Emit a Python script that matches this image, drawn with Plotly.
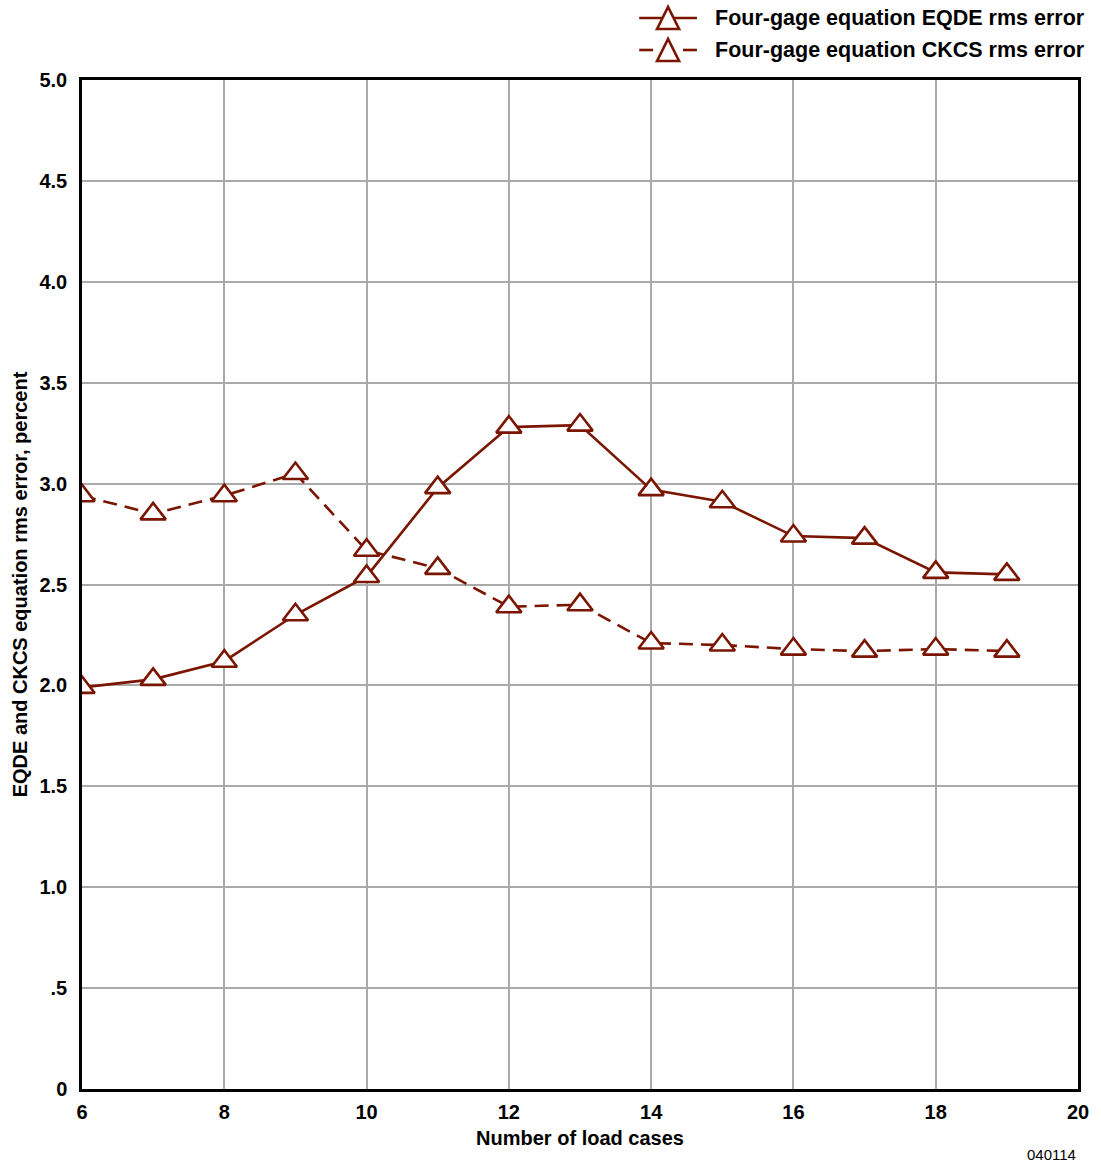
import plotly.graph_objects as go

load_cases = [6, 7, 8, 9, 10, 11, 12, 13, 14, 15, 16, 17, 18, 19]
eqde_rms = [1.99, 2.03, 2.12, 2.35, 2.54, 2.98, 3.28, 3.29, 2.97, 2.91, 2.74, 2.73, 2.56, 2.55]
ckcs_rms = [2.94, 2.85, 2.94, 3.05, 2.67, 2.58, 2.39, 2.40, 2.21, 2.20, 2.18, 2.17, 2.18, 2.17]

series_names = ["Four-gage equation EQDE rms error", "Four-gage equation CKCS rms error"]

x_ticks = [6, 8, 10, 12, 14, 16, 18, 20]
y_ticks = [0, 0.5, 1.0, 1.5, 2.0, 2.5, 3.0, 3.5, 4.0, 4.5, 5.0]
y_tick_labels = ["0", ".5", "1.0", "1.5", "2.0", "2.5", "3.0", "3.5", "4.0", "4.5", "5.0"]

series_color = "#7A1500"
font_family = "Liberation Sans, Arial, sans-serif"

W, H = 1101, 1165
M_L, M_R, M_T, M_B = 82, 18, 80, 76
plot_w = W - M_L - M_R
plot_h = H - M_T - M_B


def px_to_paper_x(px):
    return (px - M_L) / plot_w


def px_to_paper_y(py):
    return (H - M_B - py) / plot_h


marker_style = dict(symbol="triangle-up", size=22, color="white",
                    line=dict(color=series_color, width=2.6))

fig = go.Figure()
fig.add_trace(go.Scatter(
    x=load_cases, y=eqde_rms, mode="lines+markers", name=series_names[0],
    line=dict(color=series_color, width=2.6),
    marker=marker_style, showlegend=False,
))
fig.add_trace(go.Scatter(
    x=load_cases, y=ckcs_rms, mode="lines+markers", name=series_names[1],
    line=dict(color=series_color, width=2.6, dash="14px,8px"),
    marker=marker_style, showlegend=False,
))

# Key drawn above the plot frame: line sample, triangle glyph, label
key_rows = [(18, "solid"), (50, "dashed")]
tri_path = "M -11,-11 L 11,-11 L 0,11 Z"
for (row_y, style), label in zip(key_rows, series_names):
    yk = px_to_paper_y(row_y)
    if style == "solid":
        segments = [(642, 700)]
    else:
        segments = [(642, 656), (686, 700)]
    for a, b in segments:
        fig.add_shape(type="line", xref="paper", yref="paper",
                      x0=px_to_paper_x(a), x1=px_to_paper_x(b), y0=yk, y1=yk,
                      line=dict(color=series_color, width=2.6))
    fig.add_shape(type="path", xref="paper", yref="paper",
                  xsizemode="pixel", ysizemode="pixel",
                  xanchor=px_to_paper_x(671), yanchor=yk, path=tri_path,
                  fillcolor="white", line=dict(color=series_color, width=2.6))
    fig.add_annotation(text=f"<b>{label}</b>", xref="paper", yref="paper",
                       x=px_to_paper_x(716), y=yk, xanchor="left", yanchor="middle",
                       showarrow=False,
                       font=dict(family=font_family, size=21.5, color="black"))

axis_common = dict(
    showgrid=True, gridcolor="#AAAAAA", gridwidth=2,
    showline=True, linecolor="black", linewidth=2.5, mirror=True,
    ticks="", zeroline=False,
    tickfont=dict(family=font_family, size=20, color="black", weight="bold"),
)

fig.update_layout(
    width=W, height=H,
    margin=dict(l=M_L, r=M_R, t=M_T, b=M_B),
    paper_bgcolor="white", plot_bgcolor="white",
    font=dict(family=font_family, color="black"),
    showlegend=False,
    xaxis=dict(
        range=[6, 20], tickvals=x_ticks, ticklabelstandoff=3,
        title=dict(text="<b>Number of load cases</b>", font=dict(size=20), standoff=10),
        **axis_common,
    ),
    yaxis=dict(
        range=[0, 5], tickvals=y_ticks, ticktext=y_tick_labels, ticklabelstandoff=8,
        title=dict(text="<b>EQDE and CKCS equation rms error, percent</b>", font=dict(size=20), standoff=7),
        **axis_common,
    ),
)

fig.add_annotation(
    text="040114", xref="paper", yref="paper", x=1.0, y=0, xanchor="right", yanchor="top",
    yshift=-55, showarrow=False, font=dict(family=font_family, size=15, color="black"),
)

fig.write_html("out.html")
